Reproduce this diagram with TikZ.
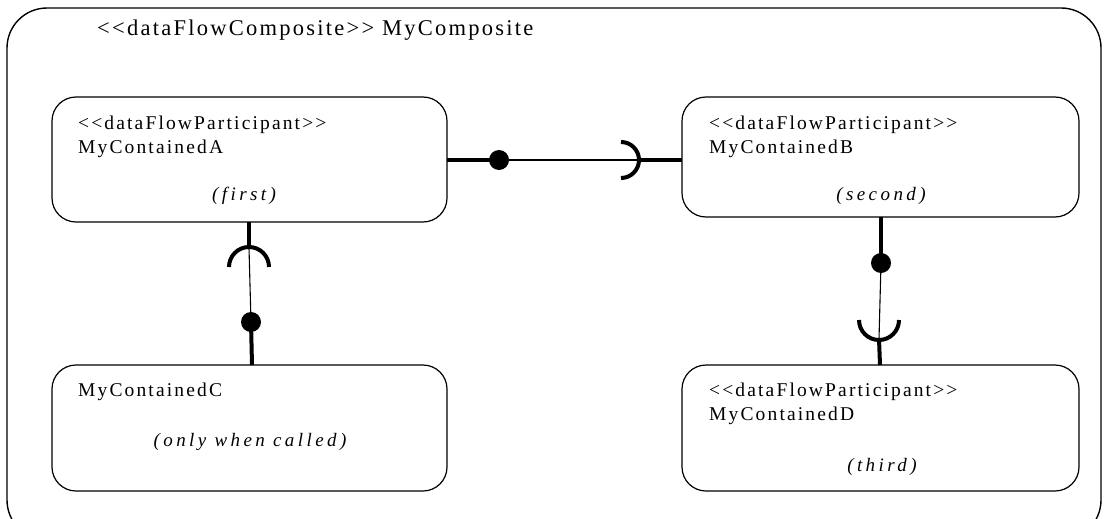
\documentclass[tikz,border=0pt]{standalone}
\usepackage{fontspec}
\setmainfont{Liberation Serif}
\newfontfamily\lblfont{Liberation Serif}[LetterSpace=11]
\newfontfamily\ttlfont{Liberation Serif}[LetterSpace=10]
\newfontfamily\notefont{Liberation Serif}[LetterSpace=18]
\begin{document}
\begin{tikzpicture}[x=1pt,y=-1pt,
  part/.style={draw,line width=1.2pt,rounded corners=24pt},
  lbl/.style={anchor=base west,inner sep=0pt,font=\lblfont\fontsize{19.5}{21}\selectfont},
  note/.style={anchor=base,inner sep=0pt,font=\notefont\fontsize{19}{21}\selectfont\itshape},
  thickc/.style={line width=4pt},
  thinc/.style={line width=1.1pt},
  sock/.style={line width=4pt},
  ball/.style={fill=black,circle,inner sep=0pt,minimum size=20pt}]
\useasboundingbox (0,0) rectangle (1108,519);
\draw[line width=1.4pt,rounded corners=40pt] (7,8) rectangle (1101,540);
\node[anchor=base west,inner sep=0pt,font=\ttlfont\fontsize{22.5}{24}\selectfont] (title) at (97,36) {<{}<dataFlowComposite>{}> MyComposite};
% boxes
\draw[part] (52,97) rectangle (447,222);
\draw[part] (682,97) rectangle (1079,217);
\draw[part] (52,365) rectangle (447,491);
\draw[part] (682,365) rectangle (1079,491);
\node[lbl] (a1) at (78,129) {<{}<dataFlowParticipant>{}>};
\node[lbl] (a2) at (78,153) {MyContainedA};
\node[note] (a3) at (244,200) {(first)};
\node[lbl] (b1) at (709,129) {<{}<dataFlowParticipant>{}>};
\node[lbl] (b2) at (709,153) {MyContainedB};
\node[note] (b3) at (881,200) {(second)};
\node[lbl] (c2) at (78,396) {MyContainedC};
\node[note] (c3) at (250,446) {(only when called)};
\node[lbl] (d1) at (709,396) {<{}<dataFlowParticipant>{}>};
\node[lbl] (d2) at (709,420) {MyContainedD};
\node[note] (d3) at (882,471) {(third)};
% connectors
\coordinate (abL) at (447,160);
\node[ball] (abBall) at (499,160) {};
\coordinate (abS) at (640,160);
\coordinate (abR) at (682,160);
\draw[thickc] (abL) -- (abBall.center);
\draw[thinc] (abBall.center) -- (abS);
\draw[thickc] (abS) -- (abR);
\draw[sock] (621,142) arc[start angle=-90,end angle=90,radius=18];

\coordinate (acT) at (249,222);
\coordinate (acS) at (249,248);
\node[ball] (acBall) at (251,322) {};
\coordinate (acB) at (252,365);
\draw[thickc] (acT) -- (acS);
\draw[thinc] (acS) -- (acBall.center);
\draw[thickc] (acBall.center) -- (acB);
\draw[sock] (229,267) arc[start angle=180,end angle=360,radius=20];

\coordinate (bdT) at (881,217);
\node[ball] (bdBall) at (881,263) {};
\coordinate (bdS) at (879,339);
\coordinate (bdB) at (880,365);
\draw[thickc] (bdT) -- (bdBall.center);
\draw[thinc] (bdBall.center) -- (bdS);
\draw[thickc] (bdS) -- (bdB);
\draw[sock] (859,320) arc[start angle=180,end angle=0,radius=20];
\end{tikzpicture}
\end{document}
